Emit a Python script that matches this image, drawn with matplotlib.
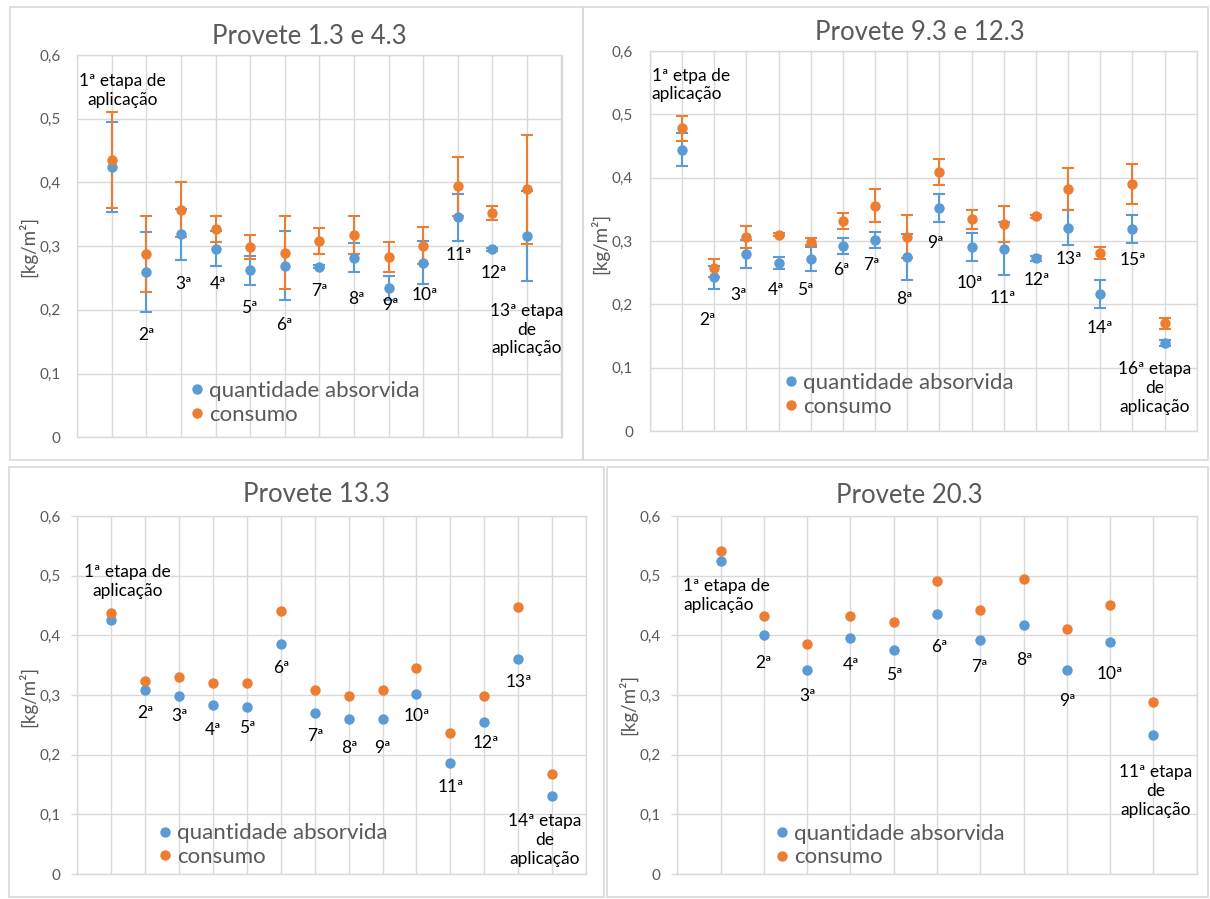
import numpy as np
import matplotlib.pyplot as plt
from matplotlib.patches import Rectangle

plt.rcParams['font.family'] = ['Lato', 'DejaVu Sans']

AZUL = '#5B9BD5'
LARANJA = '#ED7D31'
CINZA_TXT = '#595959'
CINZA_GRELHA = '#D9D9D9'

W, H = 1210, 899

# --- Provete 1.3 e 4.3 ---
p1_absorvida = [0.424, 0.259, 0.319, 0.296, 0.262, 0.269, 0.268, 0.282, 0.234, 0.274, 0.345, 0.295, 0.316]
p1_absorvida_err = [0.071, 0.063, 0.040, 0.027, 0.023, 0.054, 0.003, 0.023, 0.019, 0.034, 0.037, 0.002, 0.070]
p1_consumo = [0.435, 0.288, 0.357, 0.327, 0.299, 0.290, 0.308, 0.318, 0.283, 0.301, 0.394, 0.352, 0.389]
p1_consumo_err = [0.075, 0.060, 0.043, 0.021, 0.019, 0.058, 0.021, 0.030, 0.024, 0.029, 0.046, 0.011, 0.085]
p1_rotulos = ['1ª etapa de\naplicação', '2ª', '3ª', '4ª', '5ª', '6ª', '7ª', '8ª', '9ª', '10ª',
              '11ª', '12ª', '13ª etapa\nde\naplicação']

# --- Provete 9.3 e 12.3 ---
p2_absorvida = [0.444, 0.243, 0.279, 0.266, 0.272, 0.292, 0.302, 0.275, 0.352, 0.290, 0.288, 0.273,
                0.321, 0.216, 0.319, 0.139]
p2_absorvida_err = [0.026, 0.018, 0.022, 0.0095, 0.019, 0.0126, 0.0126, 0.0365, 0.022, 0.022, 0.042,
                    0.004, 0.0275, 0.022, 0.022, 0.005]
p2_consumo = [0.478, 0.257, 0.306, 0.310, 0.299, 0.332, 0.356, 0.307, 0.409, 0.334, 0.327, 0.339,
              0.382, 0.281, 0.390, 0.170]
p2_consumo_err = [0.0195, 0.0145, 0.017, 0.002, 0.005, 0.013, 0.026, 0.034, 0.020, 0.015, 0.029,
                  0.002, 0.033, 0.009, 0.031, 0.009]
p2_rotulos = ['1ª etpa de\naplicação', '2ª', '3ª', '4ª', '5ª', '6ª', '7ª', '8ª', '9ª', '10ª', '11ª',
              '12ª', '13ª', '14ª', '15ª', '16ª etapa\nde\naplicação']

# --- Provete 13.3 ---
p3_absorvida = [0.425, 0.309, 0.298, 0.284, 0.280, 0.385, 0.269, 0.259, 0.259, 0.302, 0.186, 0.255,
                0.360, 0.131]
p3_consumo = [0.437, 0.324, 0.331, 0.320, 0.320, 0.441, 0.309, 0.298, 0.309, 0.346, 0.237, 0.299,
              0.447, 0.167]
p3_rotulos = ['1ª etapa de\naplicação', '2ª', '3ª', '4ª', '5ª', '6ª', '7ª', '8ª', '9ª', '10ª', '11ª',
              '12ª', '13ª', '14ª etapa\nde\naplicação']

# --- Provete 20.3 ---
p4_absorvida = [0.524, 0.400, 0.342, 0.396, 0.375, 0.436, 0.393, 0.418, 0.342, 0.389, 0.233]
p4_consumo = [0.542, 0.433, 0.385, 0.433, 0.422, 0.491, 0.443, 0.494, 0.411, 0.451, 0.288]
p4_rotulos = ['1ª etapa de\naplicação', '2ª', '3ª', '4ª', '5ª', '6ª', '7ª', '8ª', '9ª', '10ª',
              '11ª etapa\nde\naplicação']

# posição dos rótulos (x da categoria, y em kg/m2)
p1_pos_rot = [(1.31, 0.544), (2.0, 0.161), (3.07, 0.240), (4.06, 0.240), (4.97, 0.203), (5.98, 0.176),
              (7.0, 0.229), (8.06, 0.217), (9.04, 0.207), (10.05, 0.224), (11.02, 0.286),
              (12.03, 0.258), (13.0, 0.169)]
p2_pos_rot = [(0.05, 0.546), (1.8, 0.175), (2.75, 0.214), (3.91, 0.223), (4.84, 0.223), (5.94, 0.254),
              (6.89, 0.262), (7.9, 0.208), (8.86, 0.297), (9.93, 0.234), (10.97, 0.210),
              (12.02, 0.238), (13.01, 0.272), (13.99, 0.162), (15.03, 0.270), (15.7, 0.068)]
p3_pos_rot = [(1.48, 0.490), (2.0, 0.269), (3.01, 0.265), (4.01, 0.241), (5.01, 0.245), (6.03, 0.346),
              (7.01, 0.231), (8.02, 0.212), (9.01, 0.212), (10.01, 0.265), (11.02, 0.146),
              (12.05, 0.219), (13.01, 0.321), (13.77, 0.057)]
p4_pos_rot = [(0.13, 0.467), (2.0, 0.354), (3.0, 0.298), (4.02, 0.350), (5.02, 0.333), (6.05, 0.380),
              (6.98, 0.347), (8.02, 0.358), (9.02, 0.290), (10.0, 0.335), (11.06, 0.139)]

fig = plt.figure(figsize=(W / 100, H / 100), dpi=100)


def eixo_px(l, t, r, b):
    return fig.add_axes([l / W, 1 - b / H, (r - l) / W, (b - t) / H])


def moldura(l, t, r, b):
    fig.patches.append(Rectangle((l / W, 1 - b / H), (r - l) / W, (b - t) / H,
                                 transform=fig.transFigure, fill=False,
                                 edgecolor=CINZA_GRELHA, lw=1.2))


def painel(ax, absorvida, consumo, rotulos, pos_rot, leg_xy, err_a=None, err_c=None,
           tick_len=0, esq_rot1=False):
    n = len(absorvida)
    x = np.arange(1, n + 1)
    ax.set_xlim(0, n + 1)
    ax.set_ylim(0, 0.6)
    ax.set_yticks(np.arange(0, 0.61, 0.1))
    ax.set_yticklabels(['0', '0,1', '0,2', '0,3', '0,4', '0,5', '0,6'])
    ax.set_xticks(np.arange(0, n + 2))
    ax.set_xticklabels([])
    ax.tick_params(axis='x', length=0)
    ax.tick_params(axis='y', length=tick_len * 0.72, width=1, color=CINZA_GRELHA,
                   labelcolor=CINZA_TXT, labelsize=11, pad=(17 - tick_len) * 0.72)
    ax.grid(True, color=CINZA_GRELHA, lw=1)
    ax.set_axisbelow(True)
    for s in ax.spines.values():
        s.set_color(CINZA_GRELHA)
        s.set_linewidth(1)

    if err_a is not None:
        ax.errorbar(x, absorvida, yerr=err_a, fmt='none', ecolor=AZUL, elinewidth=1.5,
                    capsize=4.3, capthick=1.5, zorder=3)
        ax.errorbar(x, consumo, yerr=err_c, fmt='none', ecolor=LARANJA, elinewidth=1.5,
                    capsize=4.3, capthick=1.5, zorder=3)
    ax.plot(x, absorvida, 'o', color=AZUL, ms=7.5, mec='none', label='quantidade absorvida', zorder=4)
    ax.plot(x, consumo, 'o', color=LARANJA, ms=7.5, mec='none', label='consumo', zorder=4)

    for i, (txt, (px, py)) in enumerate(zip(rotulos, pos_rot)):
        if i == 0 and esq_rot1:
            ax.text(px, py, txt, ha='left', va='center', multialignment='left',
                    fontsize=12.5, color='black', linespacing=1.2, zorder=5)
        else:
            ax.text(px, py, txt, ha='center', va='center', multialignment='center',
                    fontsize=12.5, color='black', linespacing=1.2, zorder=5)

    ax.legend(loc='center left', bbox_to_anchor=leg_xy, frameon=False, fontsize=16,
              labelcolor=CINZA_TXT, handlelength=0.5, handletextpad=0.3,
              labelspacing=0.15, borderpad=0, borderaxespad=0)


# molduras dos quatro gráficos
moldura(10, 7, 583, 460)
moldura(583, 7, 1208, 460)
moldura(9, 467, 604, 897)
moldura(607, 467, 1208, 897)

ax1 = eixo_px(77.3, 55, 561.5, 437.3)
painel(ax1, p1_absorvida, p1_consumo, p1_rotulos, p1_pos_rot, (0.235, 0.09),
       err_a=p1_absorvida_err, err_c=p1_consumo_err)

ax2 = eixo_px(650, 51, 1196.7, 431)
painel(ax2, p2_absorvida, p2_consumo, p2_rotulos, p2_pos_rot, (0.247, 0.095),
       err_a=p2_absorvida_err, err_c=p2_consumo_err, esq_rot1=True)

ax3 = eixo_px(77.3, 516, 586, 874)
painel(ax3, p3_absorvida, p3_consumo, p3_rotulos, p3_pos_rot, (0.161, 0.081), tick_len=6)

ax4 = eixo_px(677.3, 516, 1196.7, 874)
painel(ax4, p4_absorvida, p4_consumo, p4_rotulos, p4_pos_rot, (0.19, 0.079), tick_len=6,
       esq_rot1=True)

# títulos e rótulos do eixo y
for txt, (tx, ty) in [('Provete 1.3 e 4.3', (309, 37)), ('Provete 9.3 e 12.3', (920, 33)),
                      ('Provete 13.3', (316, 494)), ('Provete 20.3', (909, 495))]:
    fig.text(tx / W, 1 - ty / H, txt, ha='center', va='center', fontsize=18.5, color=CINZA_TXT)

for (tx, ty) in [(28, 246), (600, 243), (28, 696), (628, 704)]:
    fig.text(tx / W, 1 - ty / H, '[kg/m²]', ha='center', va='center', rotation=90,
             fontsize=13.5, color=CINZA_TXT)

fig.savefig('out.png', dpi=100, facecolor='white')
